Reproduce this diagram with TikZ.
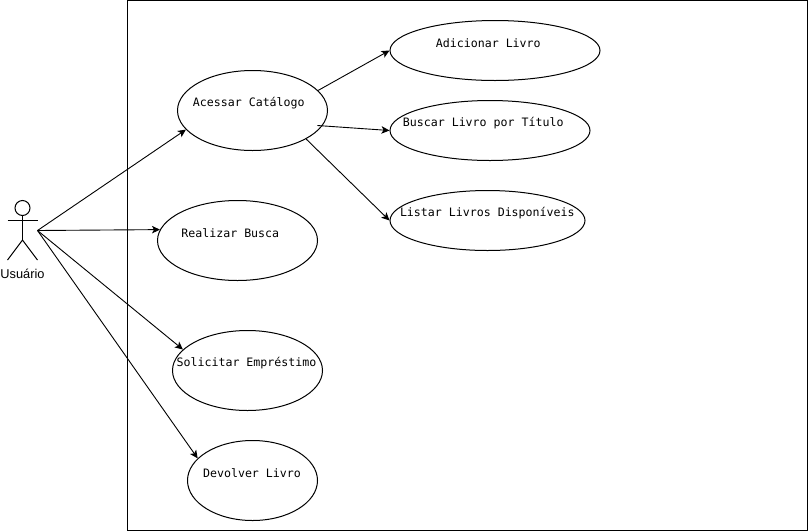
\documentclass[tikz,border=0pt]{standalone}
\usepackage{fontspec}
\setmainfont{Liberation Sans}
\newfontfamily\monotexto{DejaVu Sans Mono}
\usetikzlibrary{arrows.meta}
\usetikzlibrary{shapes.geometric}
\tikzset{
  casouso/.style={draw,ellipse,inner sep=0pt,line width=1pt},
  rotulo/.style={anchor=center,inner sep=0pt,font=\monotexto\fontsize{11.6}{14}\selectfont},
  liga/.style={line width=0.9pt,-{Stealth[length=8pt,width=7.5pt,inset=2pt]}}
}

\begin{document}
\begin{tikzpicture}[x=1pt,y=-1pt]
\useasboundingbox (0,0) rectangle (808,531);
\draw[line width=1pt] (127.5,0.5) rectangle (807.5,530.5);

\draw[line width=1pt] (22.5,208) circle (7.5pt);
\draw[line width=1pt] (22.5,215.5) -- (22.5,240);
\draw[line width=1pt] (7.5,220.5) -- (37.5,220.5);
\draw[line width=1pt] (7.5,260) -- (22.5,240) -- (37.5,260);
\node[font=\fontsize{12.8}{14}\selectfont,inner sep=0pt] (usuario) at (22.5,274) {Usuário};
\coordinate (ator) at (37.5,230.5);

\node[casouso,minimum width=150pt,minimum height=80pt] (acessar) at (252.5,110.5) {};
\node[casouso,minimum width=160pt,minimum height=80pt] (realizar) at (237.5,240.5) {};
\node[casouso,minimum width=150pt,minimum height=80pt] (solicitar) at (247.5,370.5) {};
\node[casouso,minimum width=130pt,minimum height=80pt] (devolver) at (252.5,480.5) {};
\node[casouso,minimum width=210pt,minimum height=60pt] (adicionar) at (495,50.5) {};
\node[casouso,minimum width=200pt,minimum height=60pt] (buscar) at (490,130.5) {};
\node[casouso,minimum width=195pt,minimum height=60pt] (listar) at (487.5,220.5) {};

\node[rotulo] (tacessar) at (248.8,103) {Acessar Catálogo};
\node[rotulo] (trealizar) at (230.3,233) {Realizar Busca};
\node[rotulo] (tsolicitar) at (246.5,363) {Solicitar Empréstimo};
\node[rotulo] (tdevolver) at (252,473) {Devolver Livro};
\node[rotulo] (tadicionar) at (488.3,43) {Adicionar Livro};
\node[rotulo] (tbuscar) at (483.2,123) {Buscar Livro por Título};
\node[rotulo] (tlistar) at (487.3,213) {Listar Livros Disponíveis};

\coordinate (saida) at (317.3,125.5);
\draw[liga] (ator) -- (acessar.196.9);
\draw[liga] (ator) -- (realizar.172.7);
\draw[liga] (ator) -- (solicitar.162.9);
\draw[liga] (ator) -- (devolver.158.4);
\draw[liga] (acessar.17.9) -- (adicionar.west);
\draw[liga] (saida) -- (buscar.west);
\draw[liga] (acessar.-28.2) -- (listar.west);
\end{tikzpicture}
\end{document}
